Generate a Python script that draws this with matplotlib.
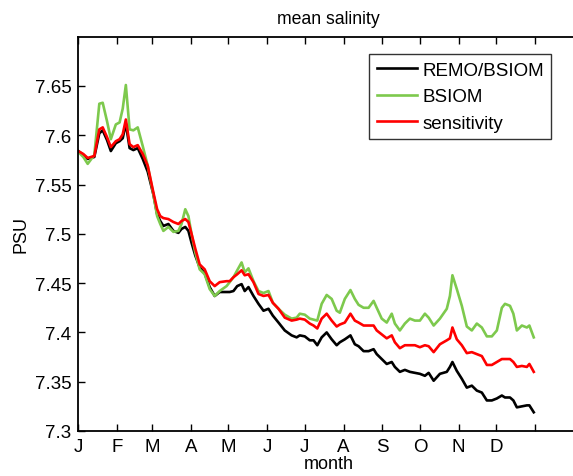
import matplotlib
matplotlib.use("Agg")
import matplotlib.pyplot as plt

plt.rcParams['font.family'] = ['Liberation Sans', 'DejaVu Sans']

days = [0, 4, 7.5, 12.8, 16.8, 19.5, 23, 26, 30, 33, 35.5, 38, 41, 44, 47.5, 51.5, 55.5, 60, 63, 65.5,
        68, 72, 76, 80, 82.5, 85.5, 88, 90.5, 93.5, 97, 101, 105, 109, 113, 118.5, 121, 124, 127, 130.5, 133,
        136, 140, 144, 148, 152, 155.5, 160, 165, 170.5, 174.5, 177, 181, 185, 188, 191, 194.5, 198.5, 202.5, 206.5, 209,
        213, 217.5, 221, 224, 228, 232, 236, 238.5, 242.5, 246.5, 250.5, 253, 257, 261, 265, 269, 273, 277, 280, 284,
        289, 294.5, 297, 299, 302.5, 306.5, 310.5, 314.5, 318.5, 322.5, 326.5, 330.5, 334.5, 338.5, 341, 345, 347.7, 350.5, 354.5, 358.5,
        360.5, 364]

remo_bsiom = [7.584, 7.580, 7.576, 7.578, 7.602, 7.605, 7.595, 7.584, 7.592, 7.594, 7.597, 7.612, 7.587, 7.585, 7.587, 7.576, 7.563, 7.540, 7.520, 7.513,
              7.508, 7.510, 7.503, 7.501, 7.505, 7.507, 7.503, 7.491, 7.478, 7.466, 7.460, 7.446, 7.437, 7.441, 7.441, 7.441, 7.442, 7.447, 7.449, 7.442,
              7.446, 7.437, 7.429, 7.422, 7.424, 7.417, 7.410, 7.402, 7.397, 7.395, 7.397, 7.396, 7.392, 7.392, 7.387, 7.395, 7.400, 7.393, 7.387, 7.390,
              7.393, 7.397, 7.388, 7.386, 7.381, 7.381, 7.383, 7.378, 7.373, 7.368, 7.370, 7.365, 7.360, 7.362, 7.360, 7.359, 7.358, 7.356, 7.359, 7.351,
              7.358, 7.360, 7.365, 7.370, 7.361, 7.353, 7.344, 7.346, 7.341, 7.339, 7.331, 7.331, 7.333, 7.336, 7.334, 7.334, 7.331, 7.324, 7.325, 7.326,
              7.326, 7.319]

bsiom = [7.583, 7.578, 7.571, 7.580, 7.632, 7.633, 7.614, 7.596, 7.611, 7.613, 7.627, 7.651, 7.606, 7.605, 7.608, 7.589, 7.569, 7.540, 7.518, 7.510,
         7.503, 7.507, 7.502, 7.503, 7.510, 7.525, 7.518, 7.500, 7.481, 7.464, 7.459, 7.444, 7.437, 7.442, 7.447, 7.451, 7.456, 7.463, 7.471, 7.461,
         7.465, 7.452, 7.442, 7.440, 7.442, 7.430, 7.424, 7.418, 7.414, 7.415, 7.419, 7.418, 7.414, 7.413, 7.412, 7.429, 7.438, 7.434, 7.422, 7.420,
         7.434, 7.443, 7.434, 7.428, 7.425, 7.425, 7.432, 7.425, 7.414, 7.410, 7.419, 7.409, 7.402, 7.409, 7.414, 7.412, 7.412, 7.419, 7.415, 7.407,
         7.414, 7.424, 7.437, 7.458, 7.444, 7.427, 7.406, 7.402, 7.409, 7.405, 7.396, 7.396, 7.402, 7.425, 7.429, 7.427, 7.419, 7.402, 7.407, 7.405,
         7.407, 7.395]

sensitivity = [7.584, 7.581, 7.577, 7.579, 7.606, 7.608, 7.598, 7.588, 7.594, 7.596, 7.601, 7.616, 7.591, 7.588, 7.590, 7.581, 7.569, 7.542, 7.525, 7.518,
               7.516, 7.515, 7.512, 7.510, 7.513, 7.515, 7.512, 7.500, 7.485, 7.469, 7.464, 7.452, 7.447, 7.451, 7.452, 7.452, 7.456, 7.459, 7.463, 7.458,
               7.459, 7.451, 7.439, 7.437, 7.438, 7.430, 7.424, 7.415, 7.412, 7.413, 7.414, 7.413, 7.409, 7.407, 7.404, 7.414, 7.419, 7.412, 7.406, 7.408,
               7.410, 7.419, 7.412, 7.410, 7.407, 7.407, 7.407, 7.402, 7.398, 7.394, 7.397, 7.390, 7.384, 7.387, 7.387, 7.387, 7.385, 7.387, 7.386, 7.380,
               7.388, 7.392, 7.394, 7.405, 7.393, 7.387, 7.379, 7.380, 7.378, 7.376, 7.367, 7.367, 7.370, 7.373, 7.373, 7.373, 7.370, 7.365, 7.366, 7.365,
               7.368, 7.360]

month_ticks = [0, 31, 59, 90, 120, 151, 181, 212, 243, 273, 304, 334, 365]
month_labels = ['J', 'F', 'M', 'A', 'M', 'J', 'J', 'A', 'S', 'O', 'N', 'D', '']
y_ticks = [7.3, 7.35, 7.4, 7.45, 7.5, 7.55, 7.6, 7.65]
y_labels = ['7.3', '7.35', '7.4', '7.45', '7.5', '7.55', '7.6', '7.65']

W, H = 573, 477
fig = plt.figure(figsize=(W / 100, H / 100), dpi=100)
ax = fig.add_axes([78.3 / W, 45 / H, 500.5 / W, 394.3 / H])

green = (0.49, 0.79, 0.30)
ax.plot(days, remo_bsiom, color='black', lw=1.9, label='REMO/BSIOM')
ax.plot(days, bsiom, color=green, lw=1.9, label='BSIOM')
ax.plot(days, sensitivity, color='red', lw=1.9, label='sensitivity')

ax.set_xlim(0, 400)
ax.set_ylim(7.3, 7.7)
ax.set_xticks(month_ticks)
ax.set_xticklabels(month_labels)
ax.set_yticks(y_ticks)
ax.set_yticklabels(y_labels)
ax.tick_params(direction='in', length=5, width=1.0, labelsize=13.5, top=True, right=False, pad=5)
for s in ax.spines.values():
    s.set_linewidth(1.3)

ax.set_title('mean salinity', fontsize=12.7, pad=10)
ax.set_xlabel('month', fontsize=13, labelpad=0)
ax.set_ylabel('PSU', fontsize=13, labelpad=4)

leg = ax.legend(loc='upper left', bbox_to_anchor=((369.3 - 78.3) / 500.5, (432 - 55) / 394.3),
                fontsize=13.5, frameon=True, fancybox=False, edgecolor='black',
                handlelength=2.15, handletextpad=0.28, borderpad=0.4, labelspacing=0.5,
                borderaxespad=0)
leg.get_frame().set_linewidth(1.0)

fig.savefig('out.png', dpi=100)
